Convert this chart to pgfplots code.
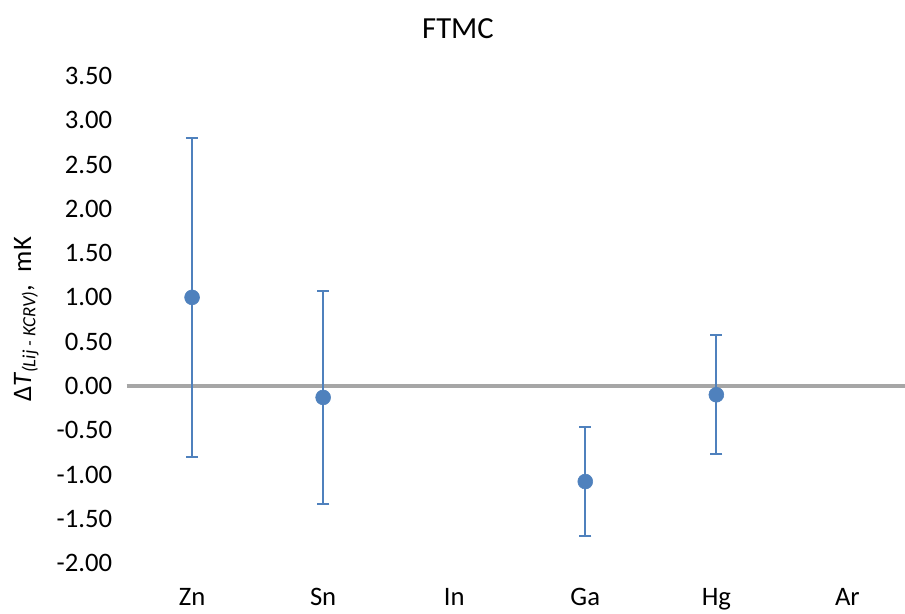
\documentclass[border=0pt]{standalone}
\usepackage{pgfplots}
\pgfplotsset{compat=1.18}
\usepackage{fontspec}
\setmainfont{Carlito}
\definecolor{serblue}{HTML}{4F81BD}
\definecolor{zerogray}{HTML}{A6A6A6}
\begin{document}
\fontsize{20pt}{24pt}\selectfont
\begin{tikzpicture}
\path[use as bounding box] (0,0) rectangle (678.75pt,459.75pt);
\node[font=\fontsize{23pt}{27pt}\selectfont] at (343.5pt,438.5pt) {FTMC};
\begin{axis}[
  at={(94.9pt,37.5pt)}, anchor=south west,
  scale only axis,
  width=583.9pt, height=365.25pt,
  xmin=-0.5, xmax=5.44,
  ymin=-2, ymax=3.5,
  axis line style={draw=none},
  major tick length=0pt,
  xtick={0,1,2,3,4,5},
  xticklabels={Zn,Sn,In,Ga,Hg,Ar},
  ytick={-2,-1.5,-1,-0.5,0,0.5,1,1.5,2,2.5,3,3.5},
  y tick label style={/pgf/number format/fixed, /pgf/number format/fixed zerofill, /pgf/number format/precision=2, /pgf/number format/assume math mode=true, font=\fontsize{20pt}{24pt}\selectfont, xshift=-4pt},
  x tick label style={font=\fontsize{20pt}{24pt}\selectfont, yshift=-12pt},
  extra y ticks={0},
  extra y tick labels={},
  extra y tick style={grid=major, major grid style={zerogray, line width=2.4pt}},
  ylabel={Δ\textit{T}\textsubscript{\textit{(Lij - KCRV)}}, \ mK},
  ylabel style={font=\fontsize{20pt}{24pt}\selectfont},
  clip=false,
]
\addplot[only marks, mark=*, mark size=5.6pt, color=serblue,
  error bars/.cd, y dir=both, y explicit,
  error bar style={line width=1.5pt, serblue},
  error mark options={rotate=90, mark size=4.6pt, line width=1.5pt, serblue}]
  table[x=x, y=y, y error=e] {
x y e
0 1.00 1.80
1 -0.13 1.20
3 -1.08 0.62
4 -0.10 0.67
};
\end{axis}
\end{tikzpicture}
\end{document}
